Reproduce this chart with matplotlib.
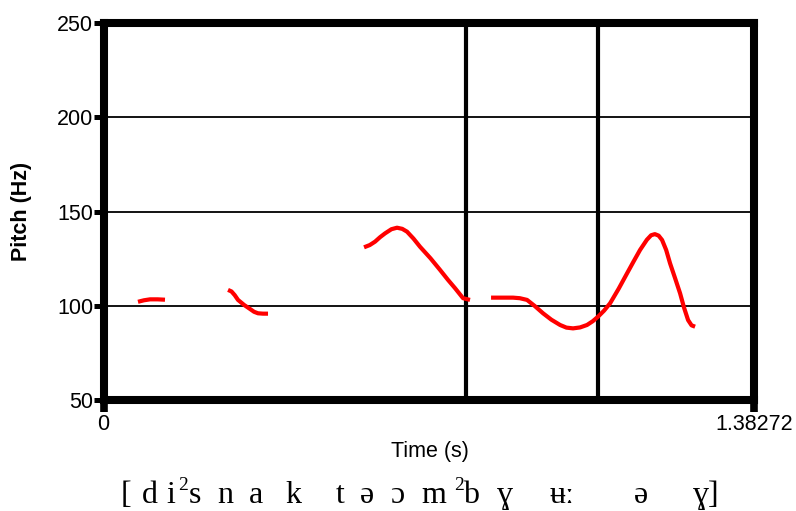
import matplotlib
matplotlib.use("Agg")
import matplotlib.pyplot as plt

# ---- data ----
seg1_t = [0.0733, 0.0860, 0.0989, 0.1150, 0.1307]
seg1_f = [102.1, 102.9, 103.4, 103.4, 103.2]

seg2_t = [0.2647, 0.2720, 0.2790, 0.2859, 0.2990, 0.3114, 0.3200, 0.3284, 0.3390, 0.3497]
seg2_f = [108.4, 107.6, 105.6, 103.1, 100.4, 98.3, 96.8, 96.0, 95.8, 95.8]

seg3_t = [0.5538, 0.5660, 0.5772, 0.5880, 0.5985, 0.6120, 0.6239, 0.6350, 0.6452, 0.6590,
          0.6728, 0.6950, 0.7154, 0.7320, 0.7473, 0.7643, 0.7791]
seg3_f = [131.0, 132.2, 134.0, 136.4, 138.4, 140.6, 141.4, 140.8, 139.3, 135.6,
          131.3, 125.2, 119.0, 113.8, 109.3, 104.0, 103.1]

seg4_t = [0.8238, 0.8705, 0.8850, 0.9003, 0.9170, 0.9343, 0.9520, 0.9705, 0.9840,
          0.9981, 1.0130, 1.0278, 1.0400, 1.0512, 1.0640, 1.0768, 1.0950, 1.1129, 1.1270,
          1.1405, 1.1550, 1.1640, 1.1720, 1.1800, 1.1873, 1.1960, 1.2043, 1.2150,
          1.2256, 1.2340, 1.2426, 1.2500, 1.2575]
seg4_f = [104.3, 104.3, 104.0, 103.1, 99.8, 96.0, 92.6, 89.8, 88.4,
          88.0, 88.5, 89.8, 91.8, 94.2, 97.4, 101.3, 109.0, 117.2, 123.6,
          129.6, 135.0, 137.4, 138.0, 137.2, 134.9, 129.6, 122.5, 114.6,
          106.6, 99.0, 92.4, 89.6, 88.9]

boundaries = [0.7706, 1.0512]
y_ticks = [50, 100, 150, 200, 250]
x_ticks = [0, 1.38272]
x_tick_labels = ["0", "1.38272"]
x_max = 1.38272

ipa_tokens = ["[", "d", "i", "s", "n", "a", "k", "t", "\u0259", "\u0254", "m",
              "b", "\u0263", "\u0289\u02d0", "\u0259", "\u0263]"]
ipa_x_px = [126, 150, 171, 195, 225, 256, 293, 340, 367, 397, 434, 471, 505, 562, 641, 706]
tone_marks = ["2", "2"]
tone_x_px = [183, 459]

# ---- figure ----
W, H = 796, 511
fig = plt.figure(figsize=(W / 100, H / 100), dpi=100)
ax = fig.add_axes([103.5 / W, 1 - 400 / H, (754 - 103.5) / W, (400 - 23) / H])

for t, f in [(seg1_t, seg1_f), (seg2_t, seg2_f), (seg3_t, seg3_f), (seg4_t, seg4_f)]:
    ax.plot(t, f, color="#ff0000", lw=3.0, solid_capstyle="butt", solid_joinstyle="round", zorder=3)

for b in boundaries:
    ax.axvline(b, color="black", lw=3.0, zorder=2)
for yv in [100, 150, 200]:
    ax.axhline(yv, color="black", lw=1.3, zorder=1)

ax.set_xlim(0, x_max)
ax.set_ylim(50, 250)
for s in ax.spines.values():
    s.set_linewidth(5.8)
    s.set_color("black")

ax.set_yticks(y_ticks)
ax.set_yticklabels([str(v) for v in y_ticks], fontsize=15.5, family="Liberation Sans")
ax.set_xticks(x_ticks)
ax.set_xticklabels(x_tick_labels, fontsize=15.5, family="Liberation Sans")
ax.tick_params(axis="y", length=7, width=3.6, pad=0.5, direction="out")
ax.tick_params(axis="x", length=8.5, width=5.5, pad=1.5, direction="out")

fig.text(430 / W, 1 - 451 / H, "Time (s)", ha="center", va="center",
         fontsize=15.5, family="Liberation Sans")
fig.text(22 / W, 1 - 211 / H, "Pitch (Hz)", ha="center", va="center", rotation=90,
         fontsize=15.5, fontweight="bold", family="Liberation Sans")

for tok, xp in zip(ipa_tokens, ipa_x_px):
    fig.text(xp / W, 1 - 503 / H, tok, ha="center", va="baseline", fontsize=23,
             family=["Liberation Serif", "DejaVu Serif"])
for tok, xp in zip(tone_marks, tone_x_px):
    fig.text(xp / W, 1 - 490 / H, tok, ha="center", va="baseline", fontsize=14,
             family=["Liberation Serif", "DejaVu Serif"])

fig.savefig("out.png", dpi=100)
